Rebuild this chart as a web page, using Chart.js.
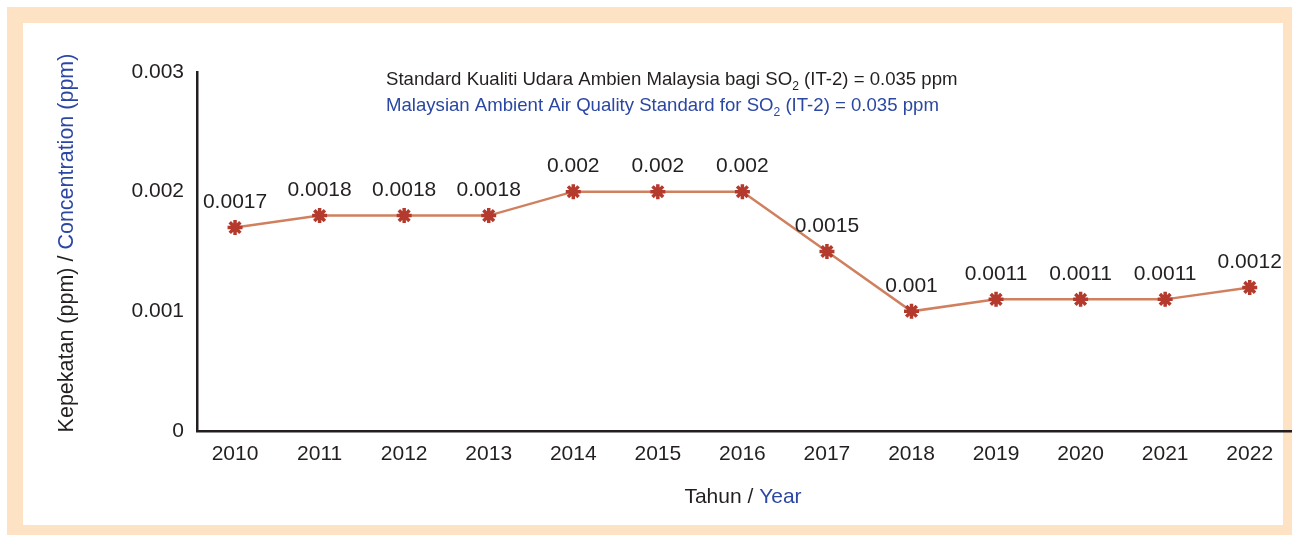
<!DOCTYPE html>
<html>
<head>
<meta charset="utf-8">
<script src="https://cdn.jsdelivr.net/npm/chart.js@4.4.0/dist/chart.umd.min.js"></script>
<style>
html,body{margin:0;padding:0;background:#fff;}
#frame{position:absolute;left:7px;top:7px;width:1285px;height:528px;background:#fde2c4;}
#inner{position:absolute;left:23px;top:23px;width:1260px;height:502px;background:#fff;}
#wrap{position:absolute;left:0;top:0;width:1292px;height:535px;}
</style>
</head>
<body>
<div id="frame"></div>
<div id="inner"></div>
<div id="wrap"><canvas id="myChart" width="1292" height="535"></canvas></div>
<script>
const years = ["2010","2011","2012","2013","2014","2015","2016","2017","2018","2019","2020","2021","2022"];
const so2 = [0.0017,0.0018,0.0018,0.0018,0.002,0.002,0.002,0.0015,0.001,0.0011,0.0011,0.0011,0.0012];
const yTicks = [0,0.001,0.002,0.003];

const black="#231f20";
const blue="#2b47a3";
const font="Arial, 'Liberation Sans', sans-serif";

// mixed colour text pieces
function drawParts(ctx,parts,x,y,size,align){
  var total=0;
  parts.forEach(function(p){
    ctx.font=(p.sub?size*0.65:size)+"px "+font;
    total+=ctx.measureText(p.t).width;
  });
  var cx = align=="center" ? x-total/2 : x;
  parts.forEach(function(p){
    ctx.font=(p.sub?size*0.65:size)+"px "+font;
    ctx.fillStyle=p.c;
    ctx.fillText(p.t,cx,p.sub?y+size*0.38:y);
    cx+=ctx.measureText(p.t).width;
  });
}

const extras = {
  id:"extras",
  afterDatasetsDraw(chart){
    var ctx=chart.ctx;
    ctx.save();
    ctx.textBaseline="middle";
    // value labels
    var meta=chart.getDatasetMeta(0);
    ctx.font="21px "+font;
    ctx.fillStyle=black;
    ctx.textAlign="center";
    meta.data.forEach(function(pt,i){
      ctx.fillText(String(so2[i]),pt.x,pt.y-25);
    });
    ctx.textAlign="left";
    // standard note
    drawParts(ctx,[{t:"Standard Kualiti Udara Ambien Malaysia bagi SO",c:black},{t:"2",c:black,sub:true},{t:" (IT-2) = 0.035 ppm",c:black}],386,80,18.6,"left");
    drawParts(ctx,[{t:"Malaysian Ambient Air Quality Standard for SO",c:blue},{t:"2",c:blue,sub:true},{t:" (IT-2) = 0.035 ppm",c:blue}],386,106,18.6,"left");
    // x title
    drawParts(ctx,[{t:"Tahun / ",c:black},{t:"Year",c:blue}],743,497,21,"center");
    // y title
    ctx.translate(67,243);
    ctx.rotate(-Math.PI/2);
    drawParts(ctx,[{t:"Kepekatan (ppm) / ",c:black},{t:"Concentration (ppm)",c:blue}],0,0,21.5,"center");
    ctx.restore();
  }
};

new Chart("myChart",{
  type:"line",
  data:{
    datasets:[{
      data:so2.map(function(v,i){return {x:i,y:v};}),
      borderColor:"#d0805f",
      borderWidth:2.5,
      pointStyle:"star",
      pointRadius:7.5,
      pointBorderWidth:3.5,
      pointBorderColor:"#b43a2e",
      pointBackgroundColor:"#b43a2e",
      tension:0
    }]
  },
  options:{
    responsive:false,
    animation:false,
    devicePixelRatio:1,
    layout:{autoPadding:false,padding:{top:72,right:0,left:0,bottom:0}},
    plugins:{legend:{display:false},tooltip:{enabled:false},title:{display:false}},
    scales:{
      x:{
        type:"linear",
        min:-0.45,max:12.5,
        grid:{display:false,drawTicks:false},
        border:{display:true,color:black,width:2.5},
        afterBuildTicks(s){s.ticks=years.map(function(y,i){return {value:i};});},
        ticks:{color:black,font:{family:font,size:21},padding:11,maxRotation:0,autoSkip:false,
          callback:function(v){return years[v];}},
        afterFit(s){s.height=104;s.paddingLeft=0;s.paddingRight=0;}
      },
      y:{
        min:0,max:0.003,
        grid:{display:false,drawTicks:false},
        border:{display:true,color:black,width:2.5},
        afterBuildTicks(s){s.ticks=yTicks.map(function(v){return {value:v};});},
        ticks:{color:black,font:{family:font,size:21},padding:13,callback:function(v){return String(v);}},
        afterFit(s){s.width=197;}
      }
    }
  },
  plugins:[extras]
});
</script>
</body>
</html>
